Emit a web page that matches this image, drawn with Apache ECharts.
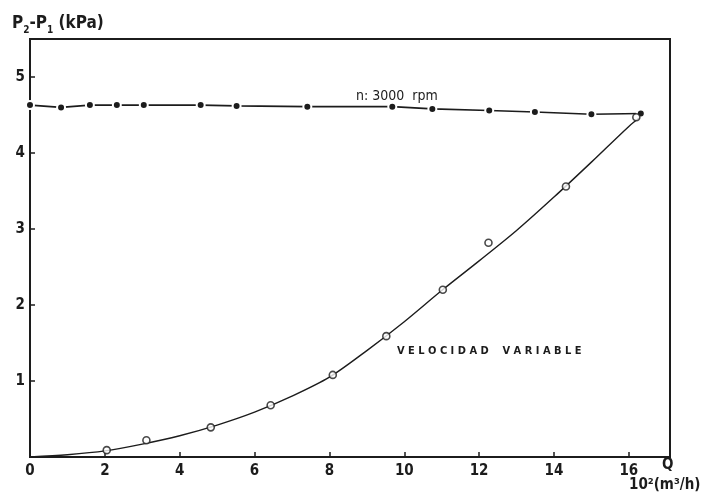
<!DOCTYPE html>
<html>
<head>
<meta charset="utf-8">
<script src="https://cdn.jsdelivr.net/npm/echarts@6/dist/echarts.min.js"></script>
<style>
  html, body { margin: 0; padding: 0; background: #fff; }
  #chart { width: 711px; height: 500px; }
</style>
</head>
<body>
<div id="chart"></div>
<script>
// Pressure rise p2-p1 (kPa) against flow Q (10^2 m3/h)
// Constant speed, n = 3000 rpm (filled points)
const constQ  = [0.0, 0.83, 1.6, 2.32, 3.04, 4.56, 5.52, 7.41, 9.68, 10.75, 12.27, 13.49, 15.0, 16.32];
const constDp = [4.63, 4.60, 4.63, 4.63, 4.63, 4.63, 4.62, 4.61, 4.61, 4.58, 4.56, 4.54, 4.51, 4.52];

// Variable speed (open points)
const varQ  = [2.05, 3.11, 4.83, 6.43, 8.09, 9.52, 11.03, 12.25, 14.32, 16.2];
const varDp = [0.09, 0.22, 0.39, 0.68, 1.08, 1.59, 2.20, 2.82, 3.56, 4.47];

// Drawn fitted curve through the variable-speed points
const curveQ  = [0, 1, 2, 3, 4, 5, 6, 7, 8, 9, 10, 11, 12, 13, 14, 15, 16, 16.3];
const curveDp = [0, 0.03, 0.08, 0.17, 0.28, 0.42, 0.59, 0.8, 1.05, 1.4, 1.78, 2.19, 2.58, 2.98, 3.42, 3.88, 4.35, 4.47];

const xTicks = [0, 2, 4, 6, 8, 10, 12, 14, 16];
const yTicks = [1, 2, 3, 4, 5];

const ink = '#1c1c1c';
const font = '"DejaVu Sans Condensed", "DejaVu Sans", sans-serif';

const zip = (a, b) => a.map((v, i) => [v, b[i]]);

const chart = echarts.init(document.getElementById('chart'));
chart.setOption({
  backgroundColor: '#ffffff',
  animation: false,
  grid: {
    left: 30, right: 41, top: 39, bottom: 43,
    show: true, borderColor: ink, borderWidth: 2
  },
  xAxis: {
    type: 'value', min: 0, max: 17.1, interval: 2,
    axisLine: { show: true, lineStyle: { color: ink, width: 2 } },
    axisTick: { show: true, inside: true, length: 5, lineStyle: { color: ink, width: 1.5 } },
    splitLine: { show: false },
    axisLabel: {
      color: ink, fontFamily: font, fontWeight: 'bold', fontSize: 15, margin: 7,
      showMaxLabel: false,
      formatter: v => xTicks.includes(v) ? String(v) : ''
    }
  },
  yAxis: {
    type: 'value', min: 0, max: 5.5, interval: 1,
    axisLine: { show: true, lineStyle: { color: ink, width: 2 } },
    axisTick: { show: true, inside: true, length: 5, lineStyle: { color: ink, width: 1.5 } },
    splitLine: { show: false },
    axisLabel: {
      color: ink, fontFamily: font, fontWeight: 'bold', fontSize: 15, margin: 5,
      showMinLabel: false, showMaxLabel: false,
      formatter: v => yTicks.includes(v) ? String(v) : ''
    }
  },
  series: [
    {
      type: 'line',
      data: zip(constQ, constDp),
      symbol: 'circle', symbolSize: 8,
      lineStyle: { color: ink, width: 1.6 },
      itemStyle: { color: ink, borderColor: '#fff', borderWidth: 2 },
      z: 3
    },
    {
      type: 'line',
      data: zip(curveQ, curveDp),
      smooth: 0.3,
      showSymbol: false, symbol: 'none',
      lineStyle: { color: ink, width: 1.4 },
      z: 2
    },
    {
      type: 'scatter',
      data: zip(varQ, varDp),
      symbol: 'circle', symbolSize: 7,
      itemStyle: { color: '#fff', borderColor: ink, borderWidth: 1.6 },
      z: 4
    }
  ],
  graphic: [
    {
      type: 'text', left: 12, top: 15,
      style: {
        text: '{b|P}{s|2}{b|-P}{s|1}{b| (kPa)}',
        rich: {
          b: { fontFamily: font, fontWeight: 'bold', fontSize: 17, fill: ink, verticalAlign: 'top', lineHeight: 20 },
          s: { fontFamily: font, fontWeight: 'bold', fontSize: 10, fill: ink, verticalAlign: 'bottom', lineHeight: 20, padding: [10, 0, 0, 0] }
        }
      }
    },
    {
      type: 'text', left: 356, top: 89,
      style: { text: 'n: 3000  rpm', fontFamily: font, fontSize: 14, fill: ink }
    },
    {
      type: 'text', left: 397, top: 346,
      style: { text: 'V E L O C I D A D    V A R I A B L E', fontFamily: font, fontWeight: 'bold', fontSize: 11, fill: ink }
    },
    {
      type: 'text', left: 662, top: 458,
      style: { text: 'Q', fontFamily: font, fontWeight: 'bold', fontSize: 15, fill: ink }
    },
    {
      type: 'text', left: 629, top: 478,
      style: { text: '10²(m³/h)', fontFamily: font, fontWeight: 'bold', fontSize: 15, fill: ink }
    }
  ]
});
</script>
</body>
</html>
